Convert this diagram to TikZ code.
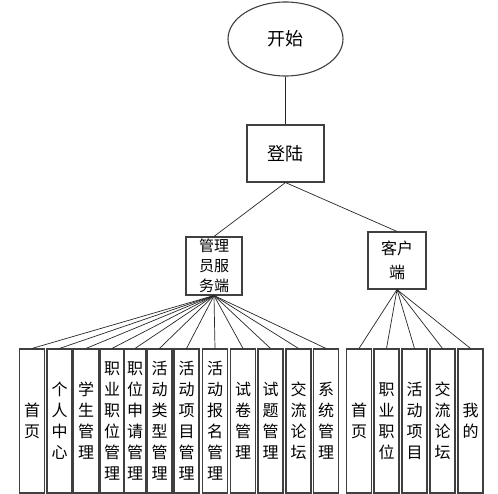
\documentclass[tikz,border=0pt]{standalone}
\usepackage{fontspec}
\setmainfont{Noto Sans CJK SC}
\usetikzlibrary{shapes.geometric}

\begin{document}
\begin{tikzpicture}[x=1pt,y=-1pt,
	box/.style={draw=black!75,line width=1.1pt,fill=white,align=center,inner sep=1pt},
	col/.style={box,minimum height=144pt,font=\fontsize{16}{21}\selectfont},
	link/.style={black!85,line width=0.7pt}]
	\useasboundingbox (0,0) rectangle (498,494);
	
	\node[ellipse,draw=black!75,line width=1.1pt,minimum width=115pt,minimum height=74pt,font=\fontsize{18}{22}\selectfont] (start) at (285.5,39) {开始};
	\node[box,minimum width=77pt,minimum height=57pt,font=\fontsize{18}{22}\selectfont] (login) at (285.5,153.5) {登陆};
	\node[box,minimum width=56pt,minimum height=58pt,font=\fontsize{15}{20}\selectfont] (admin) at (214,266) {管理\\员服\\务端};
	\node[box,minimum width=58pt,minimum height=57pt,font=\fontsize{16}{24}\selectfont] (user) at (397,260.5) {客户\\端};
	
	\draw[link] (start.south) -- (login.north);
	\draw[link] (login.south) -- (admin.north);
	\draw[link] (login.south) -- (user.north);
	
	% admin side
	\foreach \i/\x/\w/\t in {1/32/25/{首\\页}, 2/59.5/25/{个\\人\\中\\心}, 3/86/25/{学\\生\\管\\理},
		4/112/24/{职\\业\\职\\位\\管\\理}, 5/135/22/{职\\位\\申\\请\\管\\理}, 6/159.5/25/{活\\动\\类\\型\\管\\理},
		7/186.5/25/{活\\动\\项\\目\\管\\理}, 8/215/25/{活\\动\\报\\名\\管\\理}, 9/243/25/{试\\卷\\管\\理},
		10/270.5/25/{试\\题\\管\\理}, 11/298.5/25/{交\\流\\论\\坛}, 12/326/25/{系\\统\\管\\理}}
	{
		\node[col,minimum width=\w pt] (b\i) at (\x,421) {\t};
		\draw[link] (admin.south) -- (b\i.north);
	}
	
	% client side
	\foreach \i/\x/\t in {1/359/{首\\页}, 2/386.5/{职\\业\\职\\位}, 3/414.5/{活\\动\\项\\目},
		4/442.5/{交\\流\\论\\坛}, 5/470.5/{我\\的}}
	{
		\node[col,minimum width=25pt] (c\i) at (\x,421) {\t};
		\draw[link] (user.south) -- (c\i.north);
	}
\end{tikzpicture}
\end{document}
